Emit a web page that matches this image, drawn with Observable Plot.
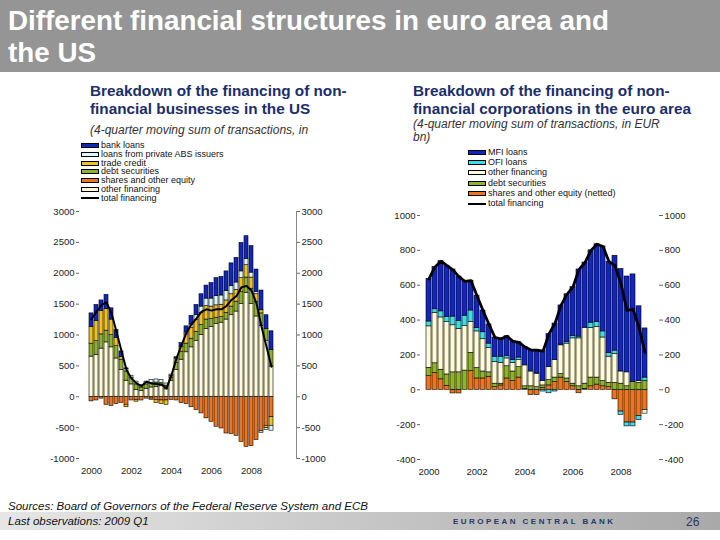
<!DOCTYPE html>
<html>
<head>
<meta charset="utf-8">
<script src="https://cdn.jsdelivr.net/npm/d3@7"></script>
<script src="https://cdn.jsdelivr.net/npm/@observablehq/plot@0.6"></script>
<style>
html,body{margin:0;padding:0}
body{width:720px;height:540px;position:relative;overflow:hidden;background:#fff;font-family:"Liberation Sans",Arial,Helvetica,sans-serif}
.a{position:absolute;white-space:nowrap}
#hdr{left:0;top:0;width:720px;height:72px;background:#959595}
#title{left:8px;top:5px;color:#fff;font-weight:bold;font-size:27.8px;line-height:31.5px}
.sub{color:#1c2e6a;font-weight:bold;font-size:15.3px;line-height:18px}
.note{color:#333;font-style:italic;font-size:12px;line-height:13px}
.leg{font-size:9px;color:#111;line-height:9px;height:9px;display:flex;align-items:center}
.sw{display:inline-block;width:18px;height:5px;box-sizing:border-box;border:0.6px solid #000;margin-right:2px}
.ln{display:inline-block;width:18px;height:2px;background:#000;margin-right:2px}
#foot{left:0;top:512px;width:720px;height:18px;background:linear-gradient(90deg,#e6e6e6 0%,#c4c4c4 55%,#a9a9a9 100%)}
.src{font-style:italic;font-size:11.5px;color:#111}
#ecb{left:453px;top:517px;font-size:8px;font-weight:bold;letter-spacing:2.45px;color:#2a3766}
#pg{left:686px;top:515px;font-size:12px;color:#2a3766}
</style>
</head>
<body>
<div id="hdr" class="a"></div>
<div id="title" class="a">Different financial structures in euro area and<br>the US</div>

<div class="a sub" style="left:90px;top:82px">Breakdown of the financing of non-<br>financial businesses in the US</div>
<div class="a note" style="left:90px;top:124px">(4-quarter moving sum of transactions, in</div>

<div class="a sub" style="left:413px;top:82px">Breakdown of the financing of non-<br>financial corporations in the euro area</div>
<div class="a note" style="left:413px;top:118px">(4-quarter moving sum of transactions, in EUR<br>bn)</div>

<div id="usLegend" class="a" style="left:81px;top:141px"></div>
<div id="euLegend" class="a" style="left:468px;top:148px"></div>

<div id="usChart" class="a" style="left:0px;top:200px"></div>
<div id="euChart" class="a" style="left:370px;top:200px"></div>

<div id="foot" class="a"></div>
<div class="a src" style="left:8px;top:500px">Sources: Board of Governors of the Federal Reserve System and ECB</div>
<div class="a src" style="left:8px;top:515px">Last observations: 2009 Q1</div>
<div id="ecb" class="a">EUROPEAN CENTRAL BANK</div>
<div id="pg" class="a">26</div>

<script>
// ---------- categories ----------
const quarters = [
  "2000 Q1","2000 Q2","2000 Q3","2000 Q4",
  "2001 Q1","2001 Q2","2001 Q3","2001 Q4",
  "2002 Q1","2002 Q2","2002 Q3","2002 Q4",
  "2003 Q1","2003 Q2","2003 Q3","2003 Q4",
  "2004 Q1","2004 Q2","2004 Q3","2004 Q4",
  "2005 Q1","2005 Q2","2005 Q3","2005 Q4",
  "2006 Q1","2006 Q2","2006 Q3","2006 Q4",
  "2007 Q1","2007 Q2","2007 Q3","2007 Q4",
  "2008 Q1","2008 Q2","2008 Q3","2008 Q4",
  "2009 Q1"
];
const xTickQuarters = ["2000 Q1","2002 Q1","2004 Q1","2006 Q1","2008 Q1"];
const xTickLabels = ["2000","2002","2004","2006","2008"];

// ---------- US (USD bn) ----------
const usBankLoans = [220,256,170,229,182,131,95,10,0,0,0,0,0,0,0,0,0,20,60,100,140,166,200,210,250,290,300,320,370,400,460,370,430,360,320,220,300];
const usAbsLoans = [0,0,0,0,0,0,0,40,40,45,40,45,50,50,50,35,20,0,0,30,60,80,100,120,130,150,150,150,130,120,110,100,80,40,-30,-30,-80];
const usTradeCredit = [270,330,380,350,250,130,40,-40,0,-30,0,0,-20,-50,-60,-70,30,70,80,150,170,190,200,220,200,200,200,200,200,190,220,200,180,130,50,-40,-140];
const usDebtSecurities = [210,220,230,190,200,200,170,150,100,90,60,70,70,70,50,60,50,120,130,140,140,150,160,150,130,100,90,110,140,160,200,250,250,230,200,200,270];
const usShares = [-75,-60,-30,-130,-150,-120,-100,-130,-60,-50,-60,-30,-30,-50,-60,-60,-50,-60,-100,-120,-170,-216,-270,-350,-405,-486,-514,-595,-605,-632,-730,-811,-800,-700,-560,-470,-330];
const usOtherFinancing = [650,680,780,880,800,620,430,260,200,110,90,130,150,160,170,120,260,430,600,720,800,900,1000,1100,1130,1180,1200,1250,1320,1380,1500,1680,1500,1300,1150,900,490];
const usTotalFinancing = [1254,1378,1486,1530,1351,1054,740,432,297,216,173,243,216,205,200,135,351,622,838,1038,1173,1270,1378,1416,1395,1416,1416,1470,1568,1632,1773,1795,1719,1514,1135,811,486];
const usYTicks = [-1000,-500,0,500,1000,1500,2000,2500,3000];

// ---------- Euro area (EUR bn) ----------
const euMfiLoans = [244,243,288,294,270,255,197,171,185,125,110,110,102,112,108,87,105,123,133,172,190,210,224,273,280,385,375,415,445,487,525,544,588,550,617,429,282];
const euOfiLoans = [28,20,35,30,50,45,60,66,20,40,25,30,35,15,15,15,0,0,5,-10,-20,-10,5,10,15,10,0,30,30,35,20,20,-19,-22,-22,-24,20];
const euOtherFinancing = [238,290,300,300,270,250,255,177,210,185,140,125,120,45,50,40,120,85,75,25,75,100,165,200,260,275,320,285,290,250,150,165,70,80,0,10,-21];
const euDebtSecurities = [48,55,55,65,100,100,110,104,60,40,25,20,10,70,55,60,15,20,15,15,30,25,20,20,15,20,30,50,40,30,25,40,35,20,45,40,50];
const euShares = [78,97,60,23,-21,-21,0,108,65,65,75,15,25,65,50,70,5,-30,-30,10,25,45,70,45,20,-20,5,20,30,20,15,-55,-125,-188,-188,-150,-116];
const euTotalFinancing = [636,705,738,712,688,648,622,626,540,455,375,300,292,307,278,272,245,228,228,222,320,380,484,548,590,690,730,800,835,822,735,712,608,455,462,360,215];
const euYTicks = [-400,-200,0,200,400,600,800,1000];

// ---------- colours ----------
const cBlue = "#1126bd", cLightCyan = "#dcf7f7", cCyan = "#3fdde6", cGold = "#f3c11e",
      cGreen = "#8fb42c", cOrange = "#ee7420", cCream = "#fffbd6";

// stacking order (bottom -> top for positives, nearest-zero first for negatives)
const usSeries = [
  {name: "shares and other equity", values: usShares, color: cOrange},
  {name: "other financing", values: usOtherFinancing, color: cCream},
  {name: "debt securities", values: usDebtSecurities, color: cGreen},
  {name: "trade credit", values: usTradeCredit, color: cGold},
  {name: "loans from private ABS issuers", values: usAbsLoans, color: cLightCyan},
  {name: "bank loans", values: usBankLoans, color: cBlue}
];
const usLegendOrder = ["bank loans","loans from private ABS issuers","trade credit","debt securities","shares and other equity","other financing"];

const euSeries = [
  {name: "shares and other equity (netted)", values: euShares, color: cOrange},
  {name: "debt securities", values: euDebtSecurities, color: cGreen},
  {name: "other financing", values: euOtherFinancing, color: cCream},
  {name: "OFI loans", values: euOfiLoans, color: cCyan},
  {name: "MFI loans", values: euMfiLoans, color: cBlue}
];
const euLegendOrder = ["MFI loans","OFI loans","other financing","debt securities","shares and other equity (netted)"];

const yFmt = d => String(d);

function makeChart(o) {
  const rows = [];
  o.series.forEach(s => s.values.forEach((v, i) => rows.push({q: quarters[i], s: s.name, v})));
  const tot = o.total.map((v, i) => ({q: quarters[i], v}));
  const names = o.series.map(s => s.name);
  const fmt = d => xTickLabels[xTickQuarters.indexOf(d)];
  return Plot.plot({
    width: 350, height: 290,
    marginLeft: o.ml, marginRight: o.mr, marginTop: o.mt, marginBottom: o.mb,
    style: {fontFamily: "Liberation Sans, Arial, sans-serif", fontSize: "9.5px", color: "#222", background: "transparent", overflow: "visible"},
    x: {type: "band", domain: quarters, paddingInner: 0.15, paddingOuter: o.po, align: o.align},
    y: {domain: o.yDomain},
    color: {domain: names, range: o.series.map(s => s.color)},
    marks: [
      Plot.barY(rows, Plot.stackY({x: "q", y: "v", fill: "s", order: names, stroke: "#000", strokeWidth: 0.6})),
      Plot.lineY(tot, {x: "q", y: "v", stroke: "#000", strokeWidth: o.lw}),
      Plot.axisX({ticks: xTickQuarters, tickFormat: fmt, tickSize: 0, tickPadding: 9, label: null}),
      Plot.axisY({anchor: "left", ticks: o.yTicks, tickFormat: yFmt, tickSize: 3, tickPadding: 2, label: null, stroke: "#666"}),
      Plot.axisY({anchor: "right", ticks: o.yTicks, tickFormat: yFmt, tickSize: o.rts, tickPadding: o.rtp, label: null, stroke: "#666"}),
      o.rightLine ? Plot.frame({anchor: "right", stroke: "#888"}) : null
    ]
  });
}

document.getElementById("usChart").append(makeChart({
  series: usSeries, total: usTotalFinancing, yDomain: [-1000, 3000], yTicks: usYTicks,
  ml: 79, mr: 54, mt: 11, mb: 32, po: 0.6, align: 0.3, lw: 2, rts: 3, rtp: 2, rightLine: true
}));
document.getElementById("euChart").append(makeChart({
  series: euSeries, total: euTotalFinancing, yDomain: [-400, 1000], yTicks: euYTicks,
  ml: 50, mr: 62, mt: 15, mb: 31, po: 0.375, align: 0.35, lw: 2.8, rts: 4, rtp: 2, rightLine: false
}));

function legend(el, order, series, rowH) {
  const box = document.getElementById(el);
  order.forEach((n, i) => {
    const s = series.find(d => d.name === n);
    const r = document.createElement("div");
    r.className = "leg";
    r.style.position = "absolute"; r.style.top = (i * rowH) + "px"; r.style.left = "0px"; r.style.whiteSpace = "nowrap";
    const sw = document.createElement("span"); sw.className = "sw"; sw.style.background = s.color;
    r.append(sw, document.createTextNode(n));
    box.append(r);
  });
  const r = document.createElement("div");
  r.className = "leg";
  r.style.position = "absolute"; r.style.top = (order.length * rowH) + "px"; r.style.left = "0px"; r.style.whiteSpace = "nowrap";
  const ln = document.createElement("span"); ln.className = "ln";
  r.append(ln, document.createTextNode("total financing"));
  box.append(r);
}
legend("usLegend", usLegendOrder, usSeries, 8.8);
legend("euLegend", euLegendOrder, euSeries, 10.2);
</script>
</body>
</html>
